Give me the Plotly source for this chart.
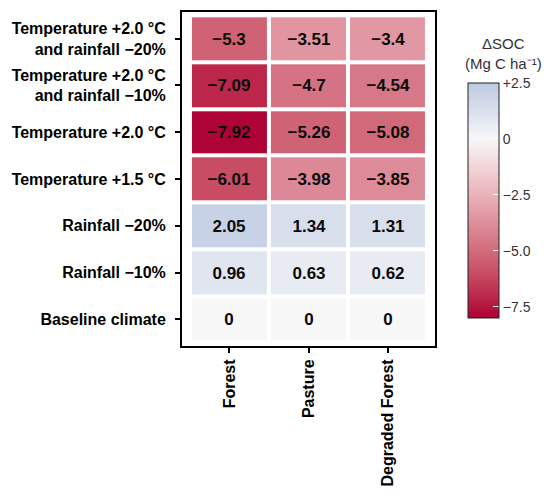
import plotly.graph_objects as go

# land uses (columns) and climate scenarios (rows, bottom to top)
land_uses = ['Forest', 'Pasture', 'Degraded Forest']
scenarios = [
    'Baseline climate',
    'Rainfall −10%',
    'Rainfall −20%',
    'Temperature +1.5 °C',
    'Temperature +2.0 °C',
    'Temperature +2.0 °C<br>and rainfall −10%',
    'Temperature +2.0 °C<br>and rainfall −20%',
]

# delta SOC (Mg C / ha), one list per scenario, same order as scenarios
baseline = [0, 0, 0]
rain_10 = [0.96, 0.63, 0.62]
rain_20 = [2.05, 1.34, 1.31]
temp_15 = [-6.01, -3.98, -3.85]
temp_20 = [-7.92, -5.26, -5.08]
temp_20_rain_10 = [-7.09, -4.7, -4.54]
temp_20_rain_20 = [-5.3, -3.51, -3.4]

z = [baseline, rain_10, rain_20, temp_15, temp_20, temp_20_rain_10, temp_20_rain_20]

cbar_ticks = [2.5, 0, -2.5, -5.0, -7.5]
cbar_ticktext = ['+2.5', '0', '−2.5', '−5.0', '−7.5']

zmin, zmax = -8, 2.5


def fmt(v):
    return f'{v:g}'.replace('-', '−')


text = [[fmt(v) for v in row] for row in z]

# diverging scale, red for losses, blue for gains, white at zero
stops = [
    (-8, '#ad0035'), (-7, '#bc2a4c'), (-6, '#c84c63'), (-5, '#d26b7c'),
    (-4, '#dc8795'), (-3, '#e5a4ae'), (-2, '#eec0c6'), (-1, '#f3dcdf'),
    (0, '#f7f7f7'), (1, '#dfe4ef'), (2, '#c9d3e6'), (2.5, '#bccae2'),
]
colorscale = [[(v - zmin) / (zmax - zmin), c] for v, c in stops]

fig = go.Figure()
fig.add_trace(go.Heatmap(
    z=z, x=land_uses, y=scenarios,
    text=text, texttemplate='%{text}',
    textfont=dict(family='Liberation Sans', size=17, color='#0a0a0a', weight='bold'),
    colorscale=colorscale, zmin=zmin, zmax=zmax,
    xgap=4, ygap=4,
    colorbar=dict(
        x=1.13, xanchor='left', xpad=0,
        y=0.436, yanchor='middle', ypad=0,
        len=0.703, thickness=31,
        outlinewidth=1, outlinecolor='#222222',
        tickvals=cbar_ticks, ticktext=cbar_ticktext,
        ticks='inside', ticklen=6, tickcolor='white', tickwidth=1,
        tickfont=dict(family='Liberation Sans', size=14, color='#333333'),
    ),
))

fig.add_annotation(
    text='ΔSOC<br>(Mg C ha⁻¹)', xref='paper', yref='paper',
    x=(503 - 182) / 253, y=1 - (74 - 10) / 343,
    xanchor='center', yanchor='bottom', showarrow=False, align='center',
    font=dict(family='Liberation Sans', size=15, color='#333333'),
)

fig.update_xaxes(
    range=[-0.6, 2.6], tickangle=-90,
    showline=True, linewidth=2, linecolor='black', mirror=True,
    ticks='outside', ticklen=5, tickwidth=1.5, tickcolor='black',
    tickfont=dict(family='Liberation Sans', size=16, color='black', weight='bold'),
    showgrid=False, zeroline=False,
)
fig.update_yaxes(
    range=[-0.57, 6.57],
    showline=True, linewidth=2, linecolor='black', mirror=True,
    ticks='outside', ticklen=5, tickwidth=1.5, tickcolor='black',
    ticklabelstandoff=6,
    tickfont=dict(family='Liberation Sans', size=16, color='black', weight='bold'),
    showgrid=False, zeroline=False,
)

fig.update_layout(
    width=550, height=497,
    margin=dict(l=182, r=115, t=10, b=144),
    plot_bgcolor='white', paper_bgcolor='white',
)

# drop the default body margin so the figure sits at the window's corner
fig.write_html('out.html', config={'displayModeBar': False},
               post_script="document.body.style.margin = '0';")
